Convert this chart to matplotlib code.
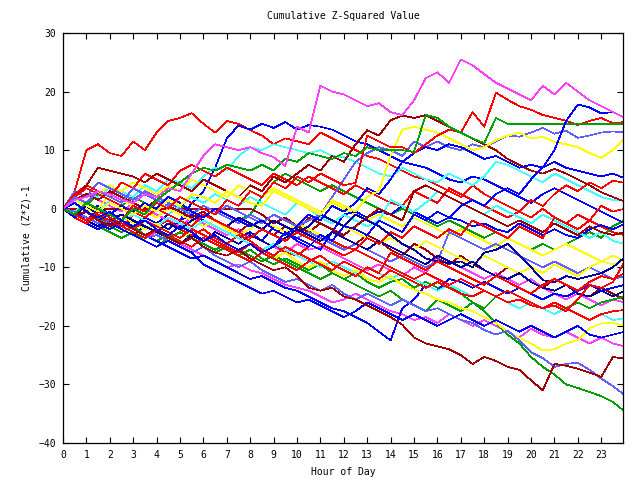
import matplotlib
matplotlib.use("Agg")
import matplotlib.pyplot as plt
import numpy as np

plt.rcParams['font.family'] = ['DejaVu Sans Mono']

# half-hour sample grid, hour 0 .. 24
hours = np.arange(49) * 0.5

magenta_top = [0, 1.5, 2, 3, 2.5, 1.5, 1, 2.5, 2, 3.5, 3, 6, 9, 11, 10.5, 10, 10.5, 9.5, 8.8, 7.3, 14, 13, 21, 20, 19.5, 18.5, 17.5, 18, 16.5, 16, 18.5, 22.3, 23.3, 21.5, 25.5, 24.5, 23, 21.5, 20.5, 19.5, 18.5, 21, 19.5, 21.5, 20, 18.5, 17.5, 16.5, 15.5]
red_top = [0, 3, 10, 11, 9.5, 9, 11.5, 10, 13, 15, 15.5, 16.3, 14.5, 13, 15, 14.5, 13.4, 12.5, 11, 12, 11.5, 11, 13, 12, 11, 10, 9, 8.5, 7.5, 6.5, 5.5, 5, 4, 3, 2, 4, 2.5, 1.5, 0.5, -0.5, -1.5, 0, -1.5, -2.5, -3.5, -2, -3, -4, -4.5]
blue_early = [0, -1, -2, 0, -1.5, -3, -2, -3.5, -2.5, -1, -2, 1, 3, 7, 12, 14.2, 13.5, 14.5, 13.8, 14.8, 13.5, 14.3, 14, 13.5, 12.5, 11.5, 11, 10, 9, 8, 7.5, 7, 6, 5, 4.5, 5.5, 5, 4, 3, 2, 1, 2.5, 3.5, 2.5, 1.5, 0.5, -0.5, -1.5, -2.5]
blue_late = [0, 1, -0.5, -1.5, -0.5, -2, -3, -2, -3.5, -4.5, -3, -4, -5.5, -4.5, -6, -7, -6, -7.5, -6.5, -4, -5.5, -6.5, -4.5, -5.5, -3, -3.5, -4.5, -2, -3, -4, -1, -2, -0.5, -1.5, 0.5, 1.5, 0.5, 2.5, 3.5, 2.5, 5, 7, 10, 15, 17.8, 17.3, 16.3, 16.5, 15.5]
green_flat = [0, -1, 1, 0, -1, -2, 0, -1, 1.5, 3, 4.5, 6, 7, 6.5, 7.5, 7, 6.5, 7.5, 6.5, 8.5, 8, 9.5, 9, 8.5, 9.5, 9, 10.5, 10, 10, 10, 9.7, 16, 15.5, 14, 13, 12, 11.2, 15.5, 14.5, 14.5, 14.5, 14.5, 14.5, 14.5, 14.5, 14.5, 14.5, 14.5, 14.5]
darkred_flat = [0, 0, 0, 0, 0, 0, 0, 0, 0, 0, 0, 0, 0, 0, 0, 0, 0, -1, -2.5, -1.5, -3, -4, -2.5, -3.5, -5, -6, -4.5, -5.5, -7, -8, -6, -7, -8.5, -9.5, -8, -9.5, -10.5, -11.5, -10, -11, -12.5, -13.5, -12, -13, -14.5, -15, -13.5, -14.5, -15.5]
darkred_low = [0, -1, -0.5, -2, -3, -2, -3.5, -4.5, -3.5, -5, -6, -5, -6.5, -7.5, -8, -7, -8.5, -9.5, -10.5, -10, -11.5, -13.5, -14, -13.5, -15, -15.5, -16.5, -17.5, -18.5, -19.8, -22, -23, -23.5, -24, -25, -26.5, -25.3, -26, -27, -27.5, -29.3, -31, -26.5, -26.8, -27.3, -28, -28.7, -25.3, -25.6]
green_low = [0, -1, -2, -1.5, -3, -4, -3, -4.5, -5.5, -4.5, -6, -5, -6.5, -7.5, -6.5, -8, -7, -8.5, -9.5, -8.5, -9.5, -10.5, -9.5, -11, -12, -11, -12.5, -13.5, -12.5, -12, -13.5, -12.5, -13.5, -13, -14.5, -16, -17.5, -19.5, -21.5, -23, -25.3, -27, -28.3, -30, -30.6, -31.3, -32, -33, -34.6]
slate_low = [0, -0.5, -1.5, -2.5, -2, -3, -4, -5, -4.5, -5.5, -6.5, -7.5, -6.5, -8, -9, -10, -9, -10.5, -11.5, -12.5, -12, -13, -14, -13, -14.5, -15.5, -14.5, -15.5, -16.5, -15.5, -16.5, -17.5, -17, -18, -19, -19.5, -20.7, -21.5, -20.8, -22.5, -24.5, -25.5, -27, -26.5, -26.3, -27.5, -29, -30.3, -31.8]
yellow_low = [0, 1, 0, -1, -2, -1, -2.5, -3.5, -2.5, -4, -5, -4, -5.5, -4.5, -6, -7, -6, -7.5, -8.5, -7.5, -9, -10, -9, -10.5, -11.5, -10.5, -12, -12.5, -11.5, -13, -13.8, -14.5, -15.5, -16, -17, -17.5, -18.5, -19.5, -21, -22, -23, -24.2, -24, -23, -22.4, -20.4, -19.6, -19.5, -20]
yellow_up = [0, 1.5, 0.5, -0.5, 1, 0, -1, 0.5, -0.5, 1.5, 0.5, 2.5, 2, 1, 3, 2, 1, 0.5, 3, 2, 1, 0, -1, 1.5, 0.5, -0.5, 2, 3, 9, 13.5, 14, 13.5, 13, 12, 11, 10, 10.5, 11.7, 12.5, 13, 12, 12.3, 11.4, 11, 10.5, 9.5, 8.7, 10, 12]
red_jump = [0, -1, 1, 0, -1, -2, 0.5, -0.5, 1, 0, 2, 1, 0, -1, 1.5, 0.5, 3, 2, 4.5, 3.5, 5.5, 4.5, 6, 5, 4, 4.4, 12.5, 11.5, 10.5, 10.5, 9.5, 11, 12.5, 13.5, 13, 16.5, 14, 19.8, 18.6, 17.5, 16.9, 16, 15.5, 15, 14.3, 15, 15.5, 14.6, 14.8]
slate_up = [0, 2, 1, 3, 2, 1, 3.5, 2.5, 1.5, 0.5, 2, 1, 0, -1, 0.5, -0.5, -1.5, -2.5, -1, -2, -3, -2, -1, 2, 5, 8, 9.5, 10.5, 10, 9, 11.5, 10.5, 11.5, 10.5, 10, 11, 10.5, 11.5, 12.5, 12.3, 13, 13.8, 12.8, 13.3, 12.1, 12.5, 13, 13.2, 13]
blue_mid = [0, -1.5, -0.5, -2, -1, 0.5, -0.5, 1, 0, 2, 1, -0.5, -1.5, 0, -1, -2, -3, -2, -3.5, -4.5, -3, -1, -2, 0.5, -0.5, 1, 3.5, 2.5, 5, 8, 9.5, 10.5, 10, 11, 10.5, 9.5, 8.5, 9, 8, 7, 7.5, 7, 8, 7, 6.5, 6, 5.5, 6, 5.2]
red_mid = [0, 2.5, 4, 3, 2, 4.5, 3.5, 6, 5, 4, 6.5, 7.5, 6.5, 5.5, 7, 6, 5, 4, 6, 5, 4, 5.5, 4.5, 3.5, 2.5, 4, 3, 2, 1, 0.5, 3, 2, 1, 3.5, 2.5, 1.5, 0.5, -0.5, -1.5, -0.5, 1.5, 0.5, 2.5, 4, 3, 4.5, 3.5, 4.8, 4.4]
darkred_up = [0, 2, 4, 7, 6.5, 6, 5.5, 4.5, 6, 5, 4, 3, 5, 4, 3, 2, 4, 3, 5.5, 4.5, 6, 7.5, 6.5, 9, 8, 11, 13.4, 12.5, 15.1, 15.9, 15.5, 16, 15, 14, 13, 12, 11, 10, 8.5, 7.5, 6.5, 6, 6.8, 6, 5, 4, 2.8, 2, 1.2]
cyan_up = [0, 1, 2.5, 2, 3.5, 3, 2, 4, 3, 5, 4.5, 3.5, 5.5, 7, 6.5, 9, 10.5, 10, 11, 10.5, 10, 9.5, 10, 9, 8.8, 8, 7, 6, 5.5, 7, 6, 5, 4.5, 6, 5, 4, 5.5, 8, 7.5, 6.5, 5.5, 4.5, 6, 5, 4, 3, 2, 1.5, 1.4]
cyan_mid = [0, -1, 0.5, -0.5, 1.5, 0.5, -0.5, 1, 0, -1, 0.5, 2, 1, 2.5, 1.5, 0.5, 2, 1, 0, -1, 1, 0, -1.5, -2.5, -1, -2, -3, -2, 1.5, 0.5, -0.5, 1, 3, 2, 1, 0, -1, 0.5, -0.5, -1.5, -2.5, -1, -2, -3, -4, -5, -4, -5.5, -6]
red_zero = [0, -1, -2, -1, -2.5, -3.5, -1, -2, -3, -2, -3.5, -4.5, -3.5, -5, -6, -4.5, -5.5, -7, -6, -7.5, -8, -6.5, -4.5, -5.5, -6.5, -7, -5, -6, -4, -5, -3, -4, -5, -3.5, -4.5, -2, -3, -4, -5, -3, -4, -5, -1.5, -2.5, -1, -2, 0.5, -0.5, 0]
blue_zero = [0, 1, -0.5, 0.5, -1, -2, -3, -1.5, -2.5, -3.5, -2, -1, -2, -3, -4, -5, -4, -5.5, -3, -4, -5, -6, -7, -4, -1, -0.5, -1.5, -0.5, -1, 0.5, -0.5, -1.5, -2.5, -1.5, -2, -3, -2.5, -3.5, -4, -2.5, -3.5, -4.5, -3.5, -4.5, -5, -3.5, -2.8, -3.5, -2.6]
darkred_mid = [0, 1.5, 2.5, 1.5, 3, 2, 1, 0, 1.5, 0.5, -0.5, -1.5, -0.5, -2, -3, -4, -2.5, -3.5, -4.5, -3, -4, -1.5, -2.5, -3.5, -4.5, -3, -1.5, 0, -1, -2, 3, 4, 3, 2, 1, 0, -1, -2, -3, -2, -3, -4, -2.5, -3.5, -4.5, -3, -4, -4.5, -4]
navy_a = [0, -1, -2, -3, -2, -3.5, -4.5, -3, -4, -5, -6, -4.5, -5.5, -4, -5, -6, -4.5, -5.5, -6.5, -5, -3.5, -4.5, -5.5, -4, -5, -6, -7, -5.5, -6.5, -7.5, -8.5, -9.5, -8, -9, -10, -9, -10.5, -11.5, -12, -11, -12.5, -13.5, -14, -13, -14.5, -15, -14, -15, -14]
yellow_mid = [0, 2, 1, 0, 2.5, 1.5, 0.5, -0.5, -1.5, 0, -1, -2, -3, -2, -3.5, -4.5, -3.5, -2, -3, -4, -2.5, -3.5, -4.5, -5.5, -3, -4, -5, -6, -5, -6, -7, -5.5, -6.5, -7.5, -8.5, -9.5, -8, -9, -10, -11, -10, -11, -9.5, -10.5, -11.5, -10, -9, -9.5, -8.8]
red_low = [0, -1.5, -2.5, -1, -2, -3, -4, -5, -3.5, -4.5, -5.5, -6.5, -5, -6, -7, -8, -9, -7.5, -8.5, -9.5, -10.5, -9, -8, -9.5, -10.5, -11.5, -10, -11, -7.5, -8.5, -9.5, -10.5, -9, -10, -11, -12, -13, -11.5, -12.5, -13.5, -14.5, -13, -12, -13, -14, -12.5, -11.5, -12, -11]
blue_dip = [0, -1, -1.5, -2.5, -3.5, -2.5, -3.5, -4.5, -5.5, -6.5, -7.5, -8.5, -8, -9, -10, -11, -12, -11.5, -12.5, -13.5, -14, -15, -16, -17, -17.5, -18.5, -19.5, -21, -22.5, -17, -15.5, -13, -14, -12, -12.5, -13.5, -12.5, -13.5, -14.5, -13.5, -14.5, -15.5, -14.5, -15, -14, -13, -14, -13.5, -13]
green_mid = [0, -1, -2, -3, -4, -5, -4, -5.5, -6.5, -5, -4, -5, -6, -7, -6, -7, -8, -9, -8, -9, -10, -11, -12, -11, -12, -13, -14, -15, -14, -15.5, -16.5, -17.5, -15.5, -16.5, -17.5, -16, -17, -15, -16, -17, -16, -17, -18, -17, -16, -17, -16, -15.5, -15]
magenta_mid = [0, 1, 2.5, 1.5, 0.5, -0.5, 1, 0, -1, -2, -3, -1.5, -2.5, -3.5, -4.5, -3.5, -4.5, -5.5, -6.5, -7.5, -6, -7, -6.5, -7.5, -8.5, -9.5, -10.5, -9.5, -10.5, -11.5, -10, -11, -8, -9, -10, -11, -12, -11, -12, -13, -12, -13.5, -14.5, -15.5, -14.5, -15.5, -16.5, -15.5, -16]
magenta_low = [0, -1, -2, -3, -2, -3, -4, -5, -4, -5, -6, -7, -8, -9, -10, -9.5, -10.5, -11, -12, -13, -13.5, -14, -15, -16, -15.5, -14.5, -15.5, -16.5, -17.5, -18, -19, -18.5, -19.5, -18, -19, -20, -19, -20, -21, -22, -20.5, -21.5, -22, -21, -22, -23, -22, -23, -23.5]
red_lowmid = [0, 2, 3.5, 2.5, 1.5, 0.5, -0.5, -1.5, 0, -1, -2, -3, -1, -2, -3, -4, -5, -3.5, -4.5, -5.5, -4, -5, -6, -7, -8, -7, -8, -9, -10, -11, -12, -11, -12, -13, -12, -13, -14, -15, -14, -15, -16, -17, -16, -17, -18, -19, -18, -17.5, -17.3]
cyan_low = [0, -0.5, 1, 0, -1, -2, -1, -2, -3, -1.5, -2.5, -3.5, -2, -3, -4, -5, -6, -7, -6, -7, -8, -9, -10, -9, -10, -11, -10, -11, -12, -11, -12, -13, -14, -13, -14, -15, -14, -15, -16, -17, -16, -17, -18, -17, -18, -19, -18, -19, -18.7]
blue_low = [0, -1.5, -2.5, -3.5, -2.5, -3.5, -4.5, -5.5, -6.5, -5.5, -6.5, -7.5, -9.5, -10.5, -11.5, -12.5, -13.5, -14.5, -14, -15, -16, -15.5, -16.5, -17.5, -18.5, -17.5, -16, -17, -18, -19, -18, -19, -20, -19, -18, -19, -20, -19, -20, -21, -20, -21, -22, -21, -20, -21.5, -22, -21.5, -21]
slate_mid = [0, 3, 2, 4.5, 3.5, 2.5, 1.5, 3, 2, 1, 0, -1, 0.5, -0.5, -1.5, -2.5, -1, -2, -3, -4, -5, -4, -5, -6, -7, -6, -7, -8, -9, -8, -9, -10, -9, -4, -5, -6, -7, -6, -7, -8, -9, -10, -9, -10, -11, -10, -11, -12, -11.5]
green_up = [0, 1.5, 0.5, 2.5, 1.5, 0.5, 2, 1, 0, -1, 0.5, -0.5, -1.5, 0, -1, -2, -1, 2, 4.5, 6, 5, 4, 3, 4, 3, 2, 1, 0, -1, 0, -1, -2, -3, -2, -3, -4, -5, -4, -5, -6, -7, -6, -7, -6, -5, -4, -5, -3, -2]
yellow_hi = [0, 2.5, 3.5, 2.5, 4, 3, 4.5, 3.5, 2.5, 4, 3, 5, 4, 3, 2, 4, 3, 2, 3.5, 2.5, 1.5, 0.5, -0.5, 1, 0, -1, -2, -1, -2, -3, -1.5, -2.5, -3.5, -4.5, -3.5, -4.5, -5.5, -6.5, -5, -6, -7, -8, -7, -6, -7, -8, -9, -8, -9]
navy_b = [0, -1, 0.5, -1, -2, -1, -2, -3, -4, -2.5, -3.5, -2, -1, -2, -3, -1.5, -2.5, -3.5, -2, -3, -4, -3, -1, -2, -3, -1, -2, -3, -4.5, -6, -7, -8.5, -9, -9.3, -9, -10, -7.5, -7, -6, -8, -10, -12.2, -12.5, -11.5, -12, -11.5, -11, -10, -8.3]
red_end = [0, -1, -2, -0.5, -1.5, -2.5, -3.5, -2, -3, -4, -5, -3.5, -4.5, -5.5, -6.5, -7.5, -6, -7, -8, -6.5, -7.5, -8.5, -9.5, -10.5, -9, -10, -11, -12, -10.5, -11.5, -12.5, -13.5, -12.5, -13.5, -14.5, -15, -14, -15, -16, -15.5, -16.5, -17, -16.5, -17.5, -15.5, -13, -13.5, -12.5, -9]

RED, GREEN, BLUE, MAGENTA = '#ff0000', '#00a000', '#0000ff', '#ff40ff'
CYAN, YELLOW, DARKRED, SLATE, NAVY = '#40ffff', '#ffff00', '#a00000', '#6060ff', '#0000a0'

series = [
    (red_top, RED), (green_up, GREEN), (blue_early, BLUE), (magenta_mid, MAGENTA),
    (cyan_up, CYAN), (darkred_flat, DARKRED), (yellow_hi, YELLOW), (slate_mid, SLATE),
    (red_mid, RED), (green_mid, GREEN), (blue_zero, BLUE), (magenta_low, MAGENTA),
    (cyan_mid, CYAN), (darkred_mid, DARKRED), (yellow_mid, YELLOW), (navy_a, NAVY),
    (red_zero, RED), (green_low, GREEN), (blue_dip, BLUE), (cyan_low, CYAN),
    (darkred_up, DARKRED), (yellow_low, YELLOW), (slate_low, SLATE), (navy_b, NAVY),
    (red_lowmid, RED), (blue_low, BLUE), (red_low, RED), (slate_up, SLATE),
    (blue_mid, BLUE), (red_end, RED), (yellow_up, YELLOW), (darkred_low, DARKRED),
    (red_jump, RED), (green_flat, GREEN), (blue_late, BLUE), (magenta_top, MAGENTA),
]

fig = plt.figure(figsize=(6.4, 4.8), dpi=100)
ax = fig.add_axes([63 / 640, 37 / 480, 560 / 640, 410 / 480])

for values, color in series:
    ax.plot(hours, values, color=color, lw=0.5, antialiased=False)

ax.set_xlim(0, 23.93)
ax.set_ylim(-40, 30)
ax.set_xticks(range(24))
ax.set_yticks(range(-40, 31, 10))
ax.tick_params(direction='in', length=4.5, width=0.8, top=True, right=True,
               labelsize=7, pad=5)
for spine in ax.spines.values():
    spine.set_linewidth(0.9)

ax.set_title("Cumulative Z-Squared Value", fontsize=7, pad=10)
ax.set_xlabel("Hour of Day", fontsize=7, labelpad=5)
ax.set_ylabel("Cumulative (Z*Z)-1", fontsize=7, labelpad=5)

fig.savefig("out.png", dpi=100)
